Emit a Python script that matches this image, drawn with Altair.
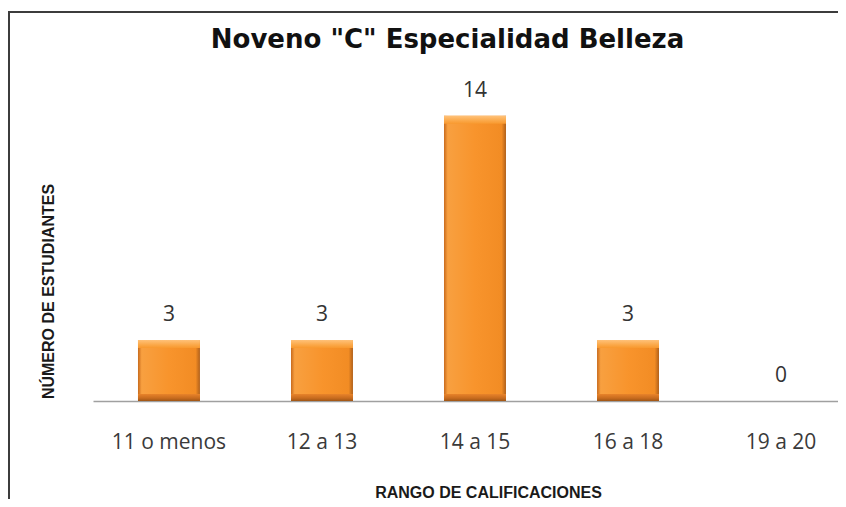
import altair as alt
import pandas as pd

categories = ["11 o menos", "12 a 13", "14 a 15", "16 a 18", "19 a 20"]
counts = [3, 3, 14, 3, 0]

df = pd.DataFrame({"rango": categories, "n": counts})

x_enc = alt.X(
    "rango:N",
    sort=categories,
    scale=alt.Scale(range=[0, 764], paddingInner=0.595, paddingOuter=0.294),
    axis=alt.Axis(
        title="RANGO DE CALIFICACIONES",
        titleFont="Liberation Sans",
        titleFontWeight="bold",
        titleFontSize=16,
        titleColor="#1a1a1a",
        titleX=395,
        titleY=91,
        titleBaseline="middle",
        labelFont="Open Sans",
        labelFontSize=21,
        labelColor="#3a3a3a",
        labelAngle=0,
        labelPadding=30,
        ticks=False,
        tickSize=0,
        domainColor="#a0a0a0",
        domainWidth=1.5,
        grid=False,
    ),
)
y_enc = alt.Y(
    "n:Q",
    scale=alt.Scale(domain=[0, 16]),
    axis=alt.Axis(
        title="NÚMERO DE ESTUDIANTES",
        titleFont="Liberation Sans",
        titleFontWeight="bold",
        titleFontSize=16,
        titleColor="#1a1a1a",
        titleX=-45,
        titleY=216,
        titleAngle=-90,
        titleAlign="center",
        titleBaseline="middle",
        labels=False,
        ticks=False,
        domain=False,
        grid=False,
    ),
)

base = alt.Chart(df)

bars = base.mark_bar(
    color=alt.Gradient(
        gradient="linear",
        x1=0, x2=1, y1=0, y2=0,
        stops=[
            alt.GradientStop(color="#C86A1C", offset=0),
            alt.GradientStop(color="#F8A040", offset=0.06),
            alt.GradientStop(color="#F8942C", offset=0.5),
            alt.GradientStop(color="#F28C24", offset=0.93),
            alt.GradientStop(color="#B0601A", offset=1),
        ],
    )
).encode(x=x_enc, y=y_enc)

top_bevel = base.transform_filter("datum.n > 0").mark_bar(
    y2Offset=8,
    color=alt.Gradient(
        gradient="linear",
        x1=0, x2=0, y1=0, y2=1,
        stops=[
            alt.GradientStop(color="#FFC27A", offset=0),
            alt.GradientStop(color="#FBA94A", offset=0.6),
            alt.GradientStop(color="#F8992F", offset=1),
        ],
    ),
).encode(x="rango:N", y="n:Q", y2="n:Q")

bottom_bevel = base.transform_filter("datum.n > 0").mark_bar(
    y2Offset=-7,
    color=alt.Gradient(
        gradient="linear",
        x1=0, x2=0, y1=0, y2=1,
        stops=[
            alt.GradientStop(color="#E8832A", offset=0),
            alt.GradientStop(color="#C76B1E", offset=0.6),
            alt.GradientStop(color="#9E5515", offset=1),
        ],
    ),
).encode(x="rango:N", y=alt.datum(0), y2=alt.datum(0))

labels = base.mark_text(
    font="Open Sans", fontSize=21, color="#333333", baseline="middle", dy=-25
).encode(x="rango:N", y="n:Q", text="n:Q")

frame_top = base.mark_rule(color="#3c3c3c", strokeWidth=2).encode(
    x=alt.value(-84), x2=alt.value(780), y=alt.value(-63)
)
frame_left = base.mark_rule(color="#3c3c3c", strokeWidth=2).encode(
    x=alt.value(-84), y=alt.value(-64), y2=alt.value(520)
)

chart = alt.layer(
    frame_top, frame_left, bars, bottom_bevel, top_bevel, labels
).properties(
    width=745,
    height=326,
    padding={"left": 85, "top": 67, "right": 0, "bottom": 98},
    autosize=alt.AutoSizeParams(type="none"),
    background="white",
    title=alt.TitleParams(
        text='Noveno "C" Especialidad Belleza',
        font="DejaVu Sans",
        fontWeight="bold",
        fontSize=26,
        color="#111111",
        anchor="middle",
        frame="group",
        baseline="alphabetic",
        offset=-64,
        dx=-18,
    ),
).configure_view(stroke=None)

chart.save("out.html", embed_options={"renderer": "svg", "actions": False})
